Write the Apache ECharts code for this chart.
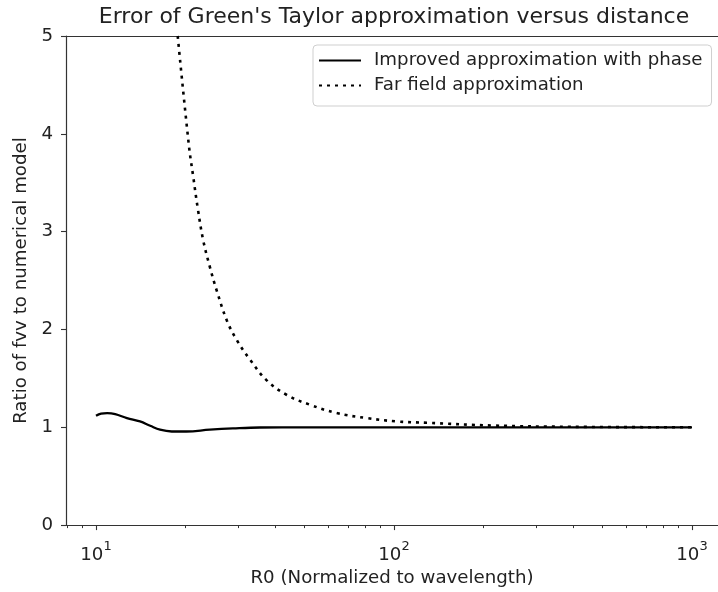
<!DOCTYPE html>
<html>
<head>
<meta charset="utf-8">
<script src="https://cdn.jsdelivr.net/npm/echarts@6/dist/echarts.min.js"></script>
<style>
  html, body { margin: 0; padding: 0; background: #fff; }
  #chart { width: 718px; height: 592px; }
</style>
</head>
<body>
<div id="chart"></div>
<script>
// Distance R0 (normalized to wavelength) and ratio of fvv to the numerical model
const r0Improved = [10, 10.4, 10.9, 11.6, 12.7, 14.05, 15.2, 16.4, 17.95, 20.1, 24.1, 28.8, 35.5, 50, 100, 200, 400, 1000];
const ratioImproved = [1.117, 1.14, 1.145, 1.135, 1.094, 1.06, 1.015, 0.975, 0.957, 0.957, 0.975, 0.988, 0.998, 1.0, 1.0, 1.0, 1.0, 1.0];

const r0FarField = [18.8, 20.5, 21.2, 22.0, 22.9, 24.1, 25.4, 27.5, 29.7, 32.9, 37.4, 43.7, 52.3, 64.2, 81.0, 102, 129, 215, 390, 1000];
const ratioFarField = [5.0, 3.88, 3.56, 3.22, 2.91, 2.64, 2.40, 2.09, 1.89, 1.69, 1.48, 1.33, 1.23, 1.145, 1.094, 1.06, 1.046, 1.018, 1.005, 1.0];

const seriesNames = ['Improved approximation with phase', 'Far field approximation'];
const majorTicksX = [10, 100, 1000];
const minorTicksX = [8, 9, 20, 30, 40, 50, 60, 70, 80, 90, 200, 300, 400, 500, 600, 700, 800, 900];
const yTicks = [0, 1, 2, 3, 4, 5];

const FONT = 'DejaVu Sans';
const INK = '#222';
const SPINE = '#333';
const FS = 18.2;
// x range in decades: the frame continues past the right edge of the canvas
const xMin = Math.pow(10, 0.8993);
const xMax = Math.pow(10, 3.0873);

const zip = (xs, ys) => xs.map((x, i) => [x, ys[i]]);

const chart = echarts.init(document.getElementById('chart'), null, { renderer: 'canvas' });

chart.setOption({
  backgroundColor: '#fff',
  animation: false,
  title: {
    text: "Error of Green's Taylor approximation versus distance",
    left: 394,
    textAlign: 'center',
    top: 6,
    padding: 0,
    textStyle: { fontFamily: FONT, fontSize: 22, fontWeight: 'normal', color: INK }
  },
  legend: {
    orient: 'vertical',
    left: 313,
    top: 45,
    padding: [5, 9, 10, 5],
    itemGap: 4,
    itemWidth: 42,
    itemHeight: 14,
    borderColor: '#cfcfcf',
    borderWidth: 1,
    borderRadius: 4,
    backgroundColor: 'rgba(255,255,255,0.85)',
    itemStyle: { opacity: 0 },
    textStyle: { fontFamily: FONT, fontSize: FS, color: INK, padding: [0, 0, 0, 8], lineHeight: 21 },
    data: seriesNames
  },
  grid: {
    left: 66, top: 36, bottom: 66, right: 0,
    show: false
  },
  xAxis: [
    {
      type: 'log', logBase: 10, min: xMin, max: xMax, position: 'bottom',
      name: 'R0 (Normalized to wavelength)',
      nameLocation: 'middle', nameGap: 39,
      nameTextStyle: { fontFamily: FONT, fontSize: FS, color: INK },
      axisLine: { show: true, lineStyle: { color: SPINE, width: 1.2 } },
      axisTick: { show: true, length: 5, lineStyle: { color: SPINE, width: 1.1 }, customValues: majorTicksX },
      axisLabel: {
        customValues: majorTicksX,
        margin: 15,
        formatter: v => '{b|10}{s|' + Math.round(Math.log10(v)) + '}',
        rich: {
          b: { fontFamily: FONT, fontSize: FS, color: INK, lineHeight: 24, verticalAlign: 'bottom' },
          s: { fontFamily: FONT, fontSize: 13, color: INK, lineHeight: 14, verticalAlign: 'top' }
        }
      },
      splitLine: { show: false },
      minorTick: { show: false }
    },
    {
      type: 'log', logBase: 10, min: xMin, max: xMax, position: 'bottom',
      axisLine: { show: false },
      axisTick: { show: true, length: 3, lineStyle: { color: SPINE, width: 1 }, customValues: minorTicksX },
      axisLabel: { show: false },
      splitLine: { show: false }
    },
    {
      // top spine of the frame
      type: 'log', logBase: 10, min: xMin, max: xMax, position: 'top',
      axisLine: { show: true, lineStyle: { color: SPINE, width: 1.2 } },
      axisTick: { show: false },
      axisLabel: { show: false },
      splitLine: { show: false }
    }
  ],
  yAxis: {
    type: 'value', min: 0, max: 5, interval: 1,
    name: 'Ratio of fvv to numerical model',
    nameLocation: 'middle', nameGap: 31, nameRotate: 90,
    nameTextStyle: { fontFamily: FONT, fontSize: FS, color: INK },
    axisLine: { show: true, lineStyle: { color: SPINE, width: 1.2 } },
    axisTick: { show: true, length: 5, lineStyle: { color: SPINE, width: 1.1 }, customValues: yTicks },
    axisLabel: { margin: 13, fontFamily: FONT, fontSize: FS, color: INK, customValues: yTicks },
    splitLine: { show: false }
  },
  series: [
    {
      name: seriesNames[0],
      type: 'line',
      xAxisIndex: 0,
      data: zip(r0Improved, ratioImproved),
      smooth: 0.4,
      symbol: 'none',
      lineStyle: { color: '#000', width: 2.3, type: 'solid' },
      itemStyle: { color: '#000' }
    },
    {
      name: seriesNames[1],
      type: 'line',
      xAxisIndex: 0,
      data: zip(r0FarField, ratioFarField),
      smooth: 0.4,
      symbol: 'none',
      lineStyle: { color: '#000', width: 2.6, type: [3, 5] },
      itemStyle: { color: '#000' }
    }
  ]
});
</script>
</body>
</html>
